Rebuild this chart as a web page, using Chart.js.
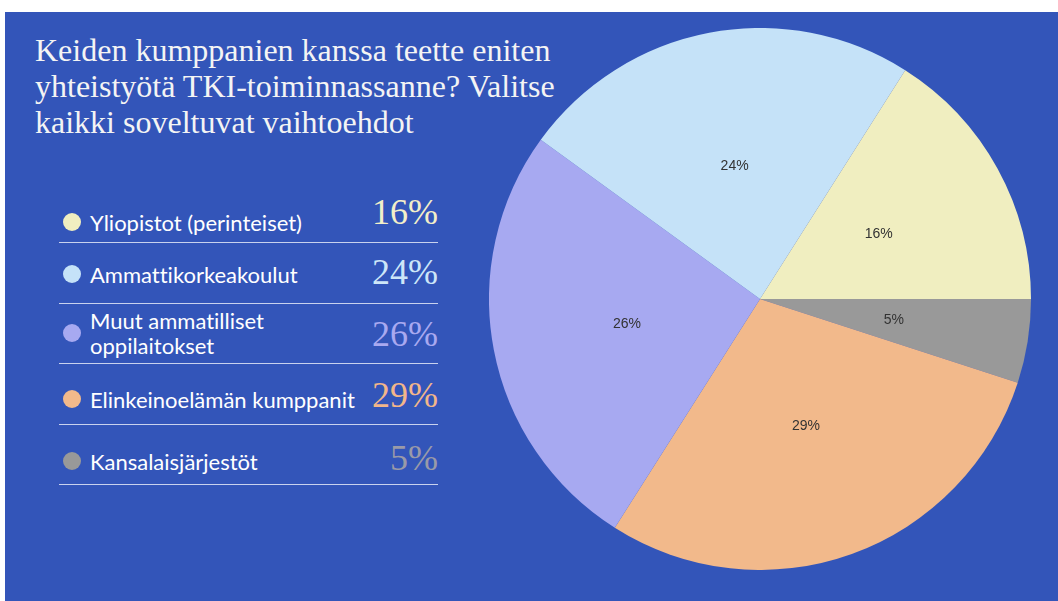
<!DOCTYPE html>
<html>
<head>
<meta charset="utf-8">
<script src="https://cdn.jsdelivr.net/npm/chart.js@4"></script>
<style>
  html, body { margin: 0; padding: 0; background: #fff; }
  body { width: 1058px; height: 601px; position: relative; overflow: hidden; }
  #panel { position: absolute; left: 5px; top: 12px; right: 0; bottom: 0; background: #3355b9; }
  #title {
    position: absolute; left: 35px; top: 32px;
    font-family: "Liberation Serif", "DejaVu Serif", serif; font-size: 32px; line-height: 36px;
    color: #f4f4f4; white-space: nowrap;
  }
  .row { position: absolute; left: 0; width: 460px; height: 0; }
  .dot { position: absolute; left: 63px; width: 18px; height: 18px; margin-top: -9px; border-radius: 50%; }
  .lbl {
    position: absolute; left: 90px; transform: translateY(-50%);
    font-family: Lato, "Open Sans", sans-serif; font-size: 22px; line-height: 25px; color: #fff;
    font-variant-ligatures: none;
  }
  .val {
    position: absolute; right: 22px; transform: translateY(-50%);
    font-family: "Liberation Serif", serif; font-size: 36px; line-height: 36px;
  }
  .sep { position: absolute; left: 59px; width: 379px; height: 0; border-top: 1.5px solid #c9d2ee; }
  #wrap { position: absolute; left: 489px; top: 28px; width: 542px; height: 542px; }
</style>
</head>
<body>
<div id="panel"></div>
<div id="title">Keiden kumppanien kanssa teette eniten<br>yhteistyötä TKI-toiminnassanne? Valitse<br>kaikki soveltuvat vaihtoehdot</div>
<div id="legend"></div>
<div id="wrap"><canvas id="pie"></canvas></div>
<script>
// data, in the order of the legend
const categories = ['Yliopistot (perinteiset)', 'Ammattikorkeakoulut', 'Muut ammatilliset oppilaitokset', 'Elinkeinoelämän kumppanit', 'Kansalaisjärjestöt'];
const shares = [16, 24, 26, 29, 5];
const colors = ['#f0eec0', '#c5e2f8', '#a7a9f1', '#f2b98b', '#999999'];
const valueColors = ['#f3efc9', '#cde6f8', '#a9a9f0', '#f2b68a', '#9a9aa8'];

// legend layout (row centre, value centre, separator y, label width)
const rowY = [222, 274, 333, 399, 461];
const valY = [212, 272, 334, 395, 458];
const sepY = [242, 303, 363, 424, 484];
const lblW = [330, 330, 230, 330, 330];

const legend = document.getElementById('legend');
categories.forEach((c, i) => {
  const row = document.createElement('div');
  row.className = 'row';
  row.style.top = rowY[i] + 'px';
  row.innerHTML = '<div class="dot" style="background:' + colors[i] + '"></div>' +
    '<div class="lbl" style="width:' + lblW[i] + 'px">' + c + '</div>';
  legend.appendChild(row);
  const v = document.createElement('div');
  v.className = 'row';
  v.style.top = valY[i] + 'px';
  v.innerHTML = '<div class="val" style="color:' + valueColors[i] + '">' + shares[i] + '%</div>';
  legend.appendChild(v);
  const s = document.createElement('div');
  s.className = 'sep';
  s.style.top = sepY[i] + 'px';
  legend.appendChild(s);
});

// pie runs clockwise from 3 o'clock, so reverse the legend order
const pieLabels = categories.slice().reverse();
const pieData = shares.slice().reverse();
const pieColors = colors.slice().reverse();

const sliceLabels = {
  id: 'sliceLabels',
  afterDatasetsDraw(chart) {
    const ctx = chart.ctx;
    ctx.save();
    ctx.font = '14px "Liberation Sans", Arial, sans-serif';
    ctx.fillStyle = '#333';
    ctx.textAlign = 'center';
    ctx.textBaseline = 'middle';
    chart.getDatasetMeta(0).data.forEach((arc, i) => {
      const p = arc.tooltipPosition();
      ctx.fillText(pieData[i] + '%', p.x, p.y);
    });
    ctx.restore();
  }
};

new Chart(document.getElementById('pie').getContext('2d'), {
  type: 'pie',
  data: {
    labels: pieLabels,
    datasets: [{ data: pieData, backgroundColor: pieColors, borderWidth: 0 }]
  },
  options: {
    responsive: true,
    maintainAspectRatio: false,
    animation: false,
    rotation: 90,
    layout: { padding: 0 },
    plugins: { legend: { display: false }, tooltip: { enabled: false } }
  },
  plugins: [sliceLabels]
});
</script>
</body>
</html>
